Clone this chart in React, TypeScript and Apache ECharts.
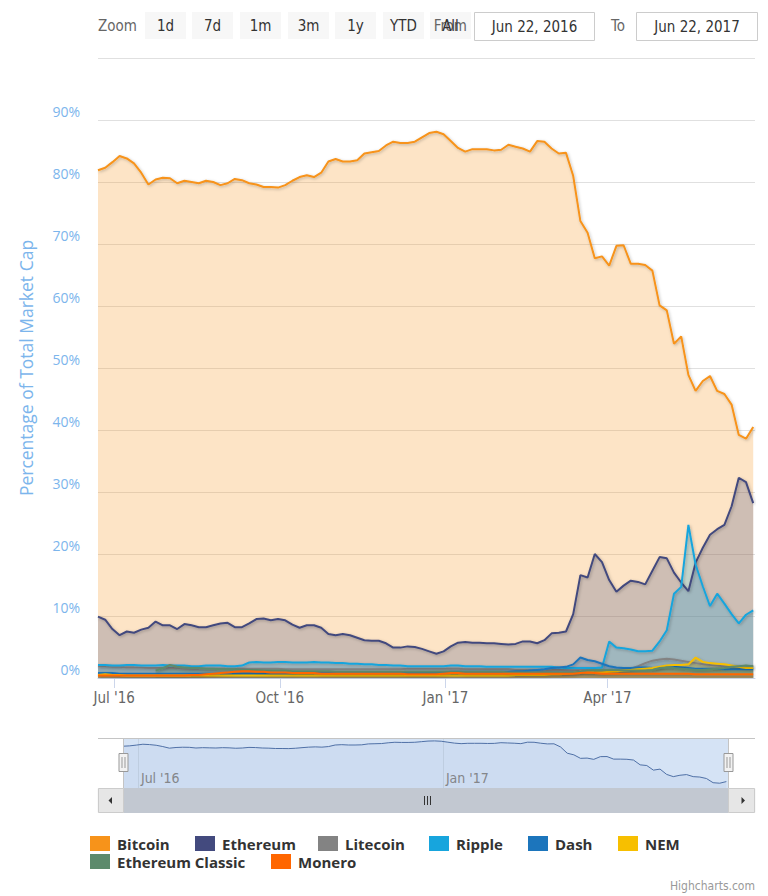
import React, { useEffect, useRef } from 'react';
import * as echarts from 'echarts';

const DAY = 86400000;
const START = Date.UTC(2016, 5, 22);
const END = Date.UTC(2017, 5, 22);
const STEP_DAYS = 4;

const MONTHS = ['Jan', 'Feb', 'Mar', 'Apr', 'May', 'Jun', 'Jul', 'Aug', 'Sep', 'Oct', 'Nov', 'Dec'];

const seriesNames = ['Bitcoin', 'Ethereum', 'Litecoin', 'Ripple', 'Dash', 'NEM', 'Ethereum Classic', 'Monero'];
const seriesColors = ['#f7931a', '#434a7e', '#838383', '#17a5dd', '#1c75bc', '#f7bf00', '#5d8a6c', '#ff6600'];

const bitcoin = [
  81.9, 82.3, 83.2, 84.2, 83.8, 83.0, 81.5, 79.6, 80.4, 80.7,
  80.6, 79.8, 80.2, 80.0, 79.8, 80.2, 80.0, 79.5, 79.8, 80.5,
  80.3, 79.8, 79.6, 79.2, 79.2, 79.1, 79.5, 80.2, 80.8, 81.1,
  80.8, 81.5, 83.3, 83.7, 83.3, 83.3, 83.5, 84.6, 84.8, 85.0,
  85.9, 86.5, 86.3, 86.3, 86.5, 87.2, 87.9, 88.1, 87.7, 86.6,
  85.5, 84.9, 85.3, 85.3, 85.3, 85.1, 85.2, 86.0, 85.7, 85.4,
  84.9, 86.6, 86.5, 85.4, 84.6, 84.7, 81.0, 73.7, 71.8, 67.7,
  68.0, 66.5, 69.7, 69.8, 66.8, 66.8, 66.6, 65.7, 60.1, 59.3,
  53.9, 55.1, 48.9, 46.3, 47.9, 48.7, 46.3, 45.8, 44.1, 39.2,
  38.6, 40.5,
];

const ethereum = [
  9.9, 9.4, 7.9, 6.9, 7.5, 7.3, 7.8, 8.1, 9.1, 8.5,
  8.5, 7.9, 8.7, 8.5, 8.2, 8.2, 8.5, 8.8, 8.9, 8.2,
  8.2, 8.8, 9.5, 9.6, 9.3, 9.5, 9.3, 8.6, 8.1, 8.5,
  8.5, 8.1, 7.1, 6.9, 7.1, 6.9, 6.5, 6.1, 6.0, 6.0,
  5.6, 4.9, 4.9, 5.1, 5.0, 4.7, 4.3, 3.9, 4.3, 5.1,
  5.7, 5.8, 5.7, 5.7, 5.6, 5.6, 5.5, 5.4, 5.5, 5.9,
  5.9, 5.6, 6.1, 7.2, 7.3, 7.5, 10.3, 16.6, 16.2, 20.0,
  18.7, 15.8, 13.9, 14.9, 15.7, 15.5, 15.1, 17.3, 19.5, 19.3,
  17.0, 15.4, 14.0, 18.6, 21.0, 23.1, 24.0, 24.7, 27.7, 32.3,
  31.6, 28.2,
];

const litecoin = [
  1.9, 1.9, 1.8, 1.8, 1.7, 1.7, 1.7, 1.6, 1.6, 1.6,
  1.6, 1.6, 1.5, 1.5, 1.5, 1.5, 1.5, 1.5, 1.5, 1.5,
  1.5, 1.5, 1.5, 1.5, 1.5, 1.5, 1.4, 1.4, 1.4, 1.4,
  1.4, 1.4, 1.4, 1.4, 1.4, 1.4, 1.4, 1.4, 1.4, 1.4,
  1.4, 1.4, 1.4, 1.5, 1.5, 1.5, 1.5, 1.5, 1.5, 1.5,
  1.5, 1.4, 1.4, 1.4, 1.4, 1.4, 1.4, 1.4, 1.3, 1.3,
  1.3, 1.3, 1.3, 1.3, 1.3, 1.2, 1.2, 1.2, 1.2, 1.2,
  1.2, 1.2, 1.2, 1.3, 1.5, 1.9, 2.4, 2.8, 3.0, 3.1,
  3.0, 2.8, 2.6, 2.4, 2.2, 2.1, 2.0, 1.9, 1.9, 1.8,
  1.8, 1.9,
];

const ripple = [
  2.1, 2.1, 2.0, 2.0, 2.1, 2.1, 2.0, 2.0, 2.0, 2.1,
  2.0, 2.0, 2.0, 1.9, 1.9, 2.0, 2.0, 2.0, 1.9, 1.9,
  2.0, 2.5, 2.6, 2.5, 2.5, 2.6, 2.6, 2.5, 2.5, 2.5,
  2.6, 2.5, 2.5, 2.4, 2.4, 2.3, 2.3, 2.2, 2.2, 2.1,
  2.1, 2.0, 2.0, 1.9, 1.9, 1.9, 1.9, 1.9, 1.9, 2.0,
  2.0, 1.9, 1.9, 1.9, 1.8, 1.8, 1.8, 1.8, 1.8, 1.8,
  1.8, 1.8, 1.8, 1.8, 1.7, 1.6, 1.6, 1.6, 1.6, 1.6,
  1.7, 5.9, 4.9, 4.8, 4.6, 4.3, 4.3, 4.4, 5.9, 7.7,
  13.6, 14.7, 24.7, 18.3, 14.8, 11.6, 13.6, 12.0, 10.3, 8.8,
  10.2, 10.9,
];

const dash = [
  0.8, 0.8, 0.8, 0.7, 0.7, 0.7, 0.7, 0.7, 0.7, 0.7,
  0.7, 0.7, 0.7, 0.7, 0.7, 0.7, 0.7, 0.7, 0.7, 0.7,
  0.7, 0.7, 0.7, 0.7, 0.7, 0.7, 0.7, 0.7, 0.8, 0.8,
  0.8, 0.8, 0.8, 0.8, 0.8, 0.8, 0.8, 0.8, 0.8, 0.8,
  0.8, 0.8, 0.8, 0.8, 0.8, 0.8, 0.8, 0.9, 0.9, 1.0,
  1.0, 1.0, 1.0, 1.0, 1.0, 1.0, 1.0, 1.0, 1.1, 1.1,
  1.2, 1.3, 1.4, 1.6, 1.7, 1.8, 2.2, 3.3, 2.9, 2.7,
  2.3, 1.9, 1.7, 1.6, 1.6, 1.7, 1.7, 1.6, 1.6, 1.8,
  1.8, 1.7, 1.6, 1.5, 1.5, 1.5, 1.5, 1.4, 1.4, 1.4,
  1.4, 1.4,
];

const nem = [
  0.5, 0.6, 0.5, 0.5, 0.4, 0.4, 0.4, 0.4, 0.4, 0.4,
  0.4, 0.4, 0.4, 0.4, 0.4, 0.4, 0.4, 0.4, 0.4, 0.4,
  0.4, 0.4, 0.4, 0.4, 0.4, 0.4, 0.4, 0.4, 0.4, 0.4,
  0.4, 0.4, 0.4, 0.4, 0.4, 0.4, 0.4, 0.4, 0.4, 0.4,
  0.4, 0.4, 0.4, 0.4, 0.4, 0.4, 0.4, 0.4, 0.4, 0.4,
  0.4, 0.4, 0.4, 0.4, 0.4, 0.4, 0.4, 0.4, 0.5, 0.5,
  0.5, 0.5, 0.5, 0.6, 0.6, 0.7, 0.8, 1.0, 0.9, 0.9,
  0.9, 1.0, 1.1, 1.2, 1.3, 1.4, 1.5, 1.6, 1.8, 2.0,
  2.1, 2.1, 2.2, 3.3, 2.6, 2.4, 2.3, 2.2, 2.0, 1.8,
  1.6, 1.6,
];

const ethereumClassic = [
  null, null, null, null, null, null, null, null, 1.2, 1.6,
  2.1, 1.8, 1.7, 1.6, 1.6, 1.5, 1.5, 1.4, 1.4, 1.4,
  1.3, 1.3, 1.3, 1.2, 1.2, 1.2, 1.2, 1.1, 1.1, 1.1,
  1.1, 1.1, 1.1, 1.0, 1.0, 1.0, 1.0, 1.0, 1.0, 1.0,
  1.0, 1.0, 1.0, 1.0, 1.0, 1.0, 1.0, 1.0, 1.0, 1.0,
  1.0, 1.0, 1.0, 1.0, 1.0, 1.0, 1.0, 0.9, 0.9, 0.9,
  0.9, 0.9, 0.9, 0.9, 0.9, 0.9, 0.9, 1.0, 1.2, 1.3,
  1.3, 1.3, 1.3, 1.2, 1.2, 1.2, 1.2, 1.3, 1.6, 1.7,
  1.6, 1.5, 1.4, 1.3, 1.3, 1.4, 1.5, 1.6, 1.8, 1.9,
  2.0, 1.9,
];

const monero = [
  0.4, 0.4, 0.4, 0.4, 0.4, 0.4, 0.4, 0.4, 0.4, 0.4,
  0.4, 0.4, 0.4, 0.5, 0.5, 0.6, 0.7, 0.8, 0.9, 1.0,
  1.1, 1.1, 1.0, 1.0, 0.9, 0.9, 0.9, 0.8, 0.8, 0.8,
  0.8, 0.7, 0.7, 0.7, 0.7, 0.7, 0.7, 0.7, 0.7, 0.7,
  0.7, 0.7, 0.7, 0.6, 0.6, 0.6, 0.6, 0.6, 0.7, 0.8,
  0.8, 0.7, 0.7, 0.7, 0.7, 0.7, 0.7, 0.7, 0.7, 0.7,
  0.7, 0.7, 0.7, 0.7, 0.7, 0.7, 0.7, 0.8, 0.9, 0.8,
  0.7, 0.7, 0.7, 0.7, 0.7, 0.7, 0.7, 0.7, 0.7, 0.7,
  0.7, 0.7, 0.7, 0.6, 0.6, 0.6, 0.6, 0.6, 0.6, 0.6,
  0.6, 0.6,
];

const seriesValues = [bitcoin, ethereum, litecoin, ripple, dash, nem, ethereumClassic, monero];

const yTicks = [0, 10, 20, 30, 40, 50, 60, 70, 80, 90, 100];
const rangeButtons = ['1d', '7d', '1m', '3m', '1y', 'YTD', 'All'];
const fromDate = 'Jun 22, 2016';
const toDate = 'Jun 22, 2017';

// layout (positions only)
const legendPositions = [
  [90, 836], [195, 836], [318, 836], [429, 836], [528, 836], [618, 836],
  [90, 854], [271, 854],
];
const buttonLefts = [145, 192, 240, 288, 335, 383, 430];

const FONT_COND = '"DejaVu Sans Condensed", "Liberation Sans Narrow", "DejaVu Sans", sans-serif';
const FONT_SANS = '"Open Sans", "DejaVu Sans", sans-serif';

function toPairs(values: (number | null)[]) {
  return values.map((v, i) => [START + i * STEP_DAYS * DAY, v]);
}

function fmtDate(val: number) {
  const d = new Date(val);
  return `${MONTHS[d.getUTCMonth()]} '${String(d.getUTCFullYear()).slice(2)}`;
}

export default function App() {
  const ref = useRef<HTMLDivElement>(null);

  useEffect(() => {
    if (!ref.current) return;
    const chart = echarts.init(ref.current, undefined, { renderer: 'svg' });

    const mainSeries = seriesNames.map((name, k) => ({
      type: 'line',
      name,
      data: toPairs(seriesValues[k]),
      xAxisIndex: 0,
      yAxisIndex: 0,
      symbol: 'none',
      showSymbol: false,
      connectNulls: false,
      color: seriesColors[k],
      itemStyle: { color: seriesColors[k] },
      lineStyle: {
        width: 2,
        color: seriesColors[k],
        shadowBlur: 3,
        shadowColor: 'rgba(0,0,0,0.25)',
        shadowOffsetX: 1,
        shadowOffsetY: 1,
      },
      areaStyle: { color: seriesColors[k], opacity: 0.25 },
      emphasis: { disabled: true },
    }));

    const navSeries = {
      type: 'line',
      name: 'navigator',
      data: toPairs(bitcoin),
      xAxisIndex: 1,
      yAxisIndex: 1,
      symbol: 'none',
      showSymbol: false,
      silent: true,
      lineStyle: { width: 1, color: '#4f70a6' },
      areaStyle: { color: '#335cad', opacity: 0.05 },
      emphasis: { disabled: true },
    };

    const legends = seriesNames.map((name, k) => ({
      data: [name],
      left: legendPositions[k][0],
      top: legendPositions[k][1],
      orient: 'horizontal',
      icon: 'rect',
      itemWidth: 20,
      itemHeight: 15,
      itemGap: 0,
      padding: 0,
      textStyle: {
        fontFamily: FONT_SANS,
        fontSize: 15,
        fontWeight: 'bold',
        color: '#333333',
        padding: [0, 0, 0, 2],
      },
    }));

    const graphics: any[] = [];
    // Range selector
    graphics.push({
      type: 'text', x: 98, y: 26,
      style: { text: 'Zoom', fill: '#666666', font: `15px ${FONT_COND}`, align: 'left', verticalAlign: 'middle' },
    });
    rangeButtons.forEach((label, i) => {
      graphics.push({
        type: 'rect',
        shape: { x: buttonLefts[i], y: 12, width: 41, height: 27 },
        style: { fill: '#f7f7f7' },
      });
    });
    graphics.push({
      type: 'text', x: 467, y: 26,
      style: { text: 'From', fill: '#666666', font: `15px ${FONT_COND}`, align: 'right', verticalAlign: 'middle' },
    });
    rangeButtons.forEach((label, i) => {
      graphics.push({
        type: 'text', x: buttonLefts[i] + 20.5, y: 26,
        style: { text: label, fill: '#333333', font: `15px ${FONT_COND}`, align: 'center', verticalAlign: 'middle' },
      });
    });
    graphics.push({
      type: 'rect', shape: { x: 474.5, y: 12.5, width: 120, height: 28 },
      style: { fill: '#ffffff', stroke: '#cccccc', lineWidth: 1 },
    });
    graphics.push({
      type: 'text', x: 534.5, y: 26.5,
      style: { text: fromDate, fill: '#333333', font: `15px ${FONT_COND}`, align: 'center', verticalAlign: 'middle' },
    });
    graphics.push({
      type: 'text', x: 618, y: 26,
      style: { text: 'To', fill: '#666666', font: `15px ${FONT_COND}`, align: 'center', verticalAlign: 'middle' },
    });
    graphics.push({
      type: 'rect', shape: { x: 636.5, y: 12.5, width: 121, height: 28 },
      style: { fill: '#ffffff', stroke: '#cccccc', lineWidth: 1 },
    });
    graphics.push({
      type: 'text', x: 697, y: 26.5,
      style: { text: toDate, fill: '#333333', font: `15px ${FONT_COND}`, align: 'center', verticalAlign: 'middle' },
    });

    // Navigator mask (under navigator series)
    graphics.push({
      type: 'rect', z: 0, silent: true,
      shape: { x: 123, y: 738, width: 605, height: 50 },
      style: { fill: '#d5e3f5' },
    });
    // Navigator outline
    graphics.push({
      type: 'polyline', z: 10, silent: true,
      shape: { points: [[98, 738.5], [755, 738.5]] },
      style: { stroke: '#c4c4c4', lineWidth: 1, fill: null },
    });
    graphics.push({
      type: 'line', z: 10, silent: true,
      shape: { x1: 123.5, y1: 738, x2: 123.5, y2: 788 },
      style: { stroke: '#c4c4c4', lineWidth: 1 },
    });
    graphics.push({
      type: 'line', z: 10, silent: true,
      shape: { x1: 728.5, y1: 738, x2: 728.5, y2: 788 },
      style: { stroke: '#c4c4c4', lineWidth: 1 },
    });
    // Handles
    [123.5, 728.5].forEach((cx) => {
      graphics.push({
        type: 'rect', z: 11, silent: true,
        shape: { x: cx - 4.5, y: 753.5, width: 9, height: 18 },
        style: { fill: '#f2f2f2', stroke: '#999999', lineWidth: 1 },
      });
      graphics.push({
        type: 'line', z: 12, silent: true,
        shape: { x1: cx - 1.5, y1: 757, x2: cx - 1.5, y2: 768 },
        style: { stroke: '#999999', lineWidth: 1 },
      });
      graphics.push({
        type: 'line', z: 12, silent: true,
        shape: { x1: cx + 1.5, y1: 757, x2: cx + 1.5, y2: 768 },
        style: { stroke: '#999999', lineWidth: 1 },
      });
    });
    // Scrollbar
    graphics.push({
      type: 'rect', z: 10, silent: true,
      shape: { x: 98, y: 788.5, width: 657, height: 24 },
      style: { fill: '#f2f2f2', stroke: '#f2f2f2' },
    });
    graphics.push({
      type: 'rect', z: 11, silent: true,
      shape: { x: 123.5, y: 788.5, width: 605, height: 24 },
      style: { fill: '#c2c8d1', stroke: '#c2c8d1', lineWidth: 1 },
    });
    [424, 427, 430].forEach((gx) => {
      graphics.push({
        type: 'line', z: 12, silent: true,
        shape: { x1: gx + 0.5, y1: 796, x2: gx + 0.5, y2: 805 },
        style: { stroke: '#333333', lineWidth: 1 },
      });
    });
    graphics.push({
      type: 'rect', z: 11, silent: true,
      shape: { x: 98.5, y: 788.5, width: 25, height: 24 },
      style: { fill: '#e6e6e6', stroke: '#cccccc', lineWidth: 1 },
    });
    graphics.push({
      type: 'rect', z: 11, silent: true,
      shape: { x: 728.5, y: 788.5, width: 26, height: 24 },
      style: { fill: '#e6e6e6', stroke: '#cccccc', lineWidth: 1 },
    });
    graphics.push({
      type: 'polygon', z: 12, silent: true,
      shape: { points: [[108.5, 800.5], [112, 797], [112, 804]] },
      style: { fill: '#333333' },
    });
    graphics.push({
      type: 'polygon', z: 12, silent: true,
      shape: { points: [[745, 800.5], [741.5, 797], [741.5, 804]] },
      style: { fill: '#333333' },
    });
    // Credits
    graphics.push({
      type: 'text', x: 755, y: 886,
      style: { text: 'Highcharts.com', fill: '#999999', font: `12px ${FONT_COND}`, align: 'right', verticalAlign: 'middle' },
    });

    const option: any = {
      animation: false,
      useUTC: true,
      backgroundColor: '#ffffff',
      legend: legends,
      grid: [
        { left: 98, right: 13, top: 58, bottom: 218, containLabel: false },
        { left: 123, right: 40, top: 738, height: 50, containLabel: false },
      ],
      xAxis: [
        {
          type: 'time',
          gridIndex: 0,
          min: START,
          max: END,
          splitNumber: 4,
          minInterval: 90 * DAY,
          maxInterval: 92 * DAY,
          axisLine: { show: true, lineStyle: { color: '#ccd6eb' } },
          axisTick: { show: true, length: 10, lineStyle: { color: '#ccd6eb' } },
          splitLine: { show: false },
          axisLabel: {
            formatter: (v: number) => fmtDate(v),
            color: '#666666',
            fontFamily: FONT_COND,
            fontSize: 15,
            margin: 12,
            hideOverlap: false,
          },
        },
        {
          type: 'time',
          gridIndex: 1,
          min: START,
          max: END,
          splitNumber: 2,
          minInterval: 180 * DAY,
          maxInterval: 184 * DAY,
          axisLine: { show: false },
          axisTick: { show: false },
          splitLine: { show: true, lineStyle: { color: 'rgba(0,0,0,0.07)' } },
          axisLabel: {
            inside: true,
            formatter: (v: number) => fmtDate(v),
            color: '#888888',
            fontFamily: FONT_COND,
            fontSize: 14,
            align: 'left',
            verticalAlign: 'bottom',
            padding: [0, 0, 0, 3],
            margin: 3,
          },
        },
      ],
      yAxis: [
        {
          type: 'value',
          gridIndex: 0,
          min: yTicks[0],
          max: yTicks[yTicks.length - 1],
          interval: 10,
          name: 'Percentage of Total Market Cap',
          nameLocation: 'middle',
          nameGap: 63,
          nameRotate: 90,
          nameTextStyle: { color: '#7cb5ec', fontFamily: FONT_SANS, fontSize: 17.5 },
          axisLine: { show: false },
          axisTick: { show: false },
          splitLine: { show: true, lineStyle: { color: '#e0e0e0', width: 1 } },
          axisLabel: {
            formatter: (v: number) => (v === 100 ? '' : `${v}%`),
            color: '#7cb5ec',
            fontFamily: FONT_SANS,
            fontSize: 14,
            margin: 18,
            verticalAlign: 'bottom',
            lineHeight: 18,
          },
        },
        {
          type: 'value',
          gridIndex: 1,
          min: 33,
          max: 91.5,
          show: false,
          splitLine: { show: false },
        },
      ],
      graphic: { elements: graphics },
      series: [...mainSeries, navSeries],
    };

    chart.setOption(option);
    return () => chart.dispose();
  }, []);

  return (
    <div
      ref={ref}
      style={{ position: 'fixed', left: 0, top: 0, width: 768, height: 896, background: '#fff' }}
    />
  );
}
